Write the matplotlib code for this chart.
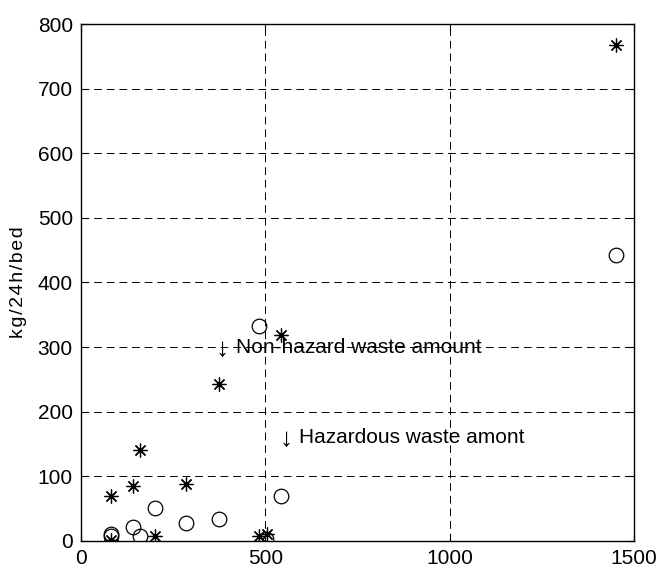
import matplotlib.pyplot as plt

# hazardous waste (circles) and non-hazard waste (stars), kg/24h/bed
circle_x = [81, 81, 140, 160, 199, 283, 373, 482, 501, 543, 1450]
circle_y = [8, 11, 22, 8, 51, 28, 34, 333, 3, 69, 443]
star_x = [81, 81, 140, 160, 199, 283, 373, 482, 503, 541, 1450]
star_y = [69, 2, 85, 141, 8, 88, 243, 8, 10, 319, 767]

x_ticks = [0, 500, 1000, 1500]
y_ticks = [0, 100, 200, 300, 400, 500, 600, 700, 800]

plt.rcParams["font.family"] = ["Liberation Sans", "DejaVu Sans"]

fig = plt.figure(figsize=(6.71, 5.73), dpi=100)
ax = fig.add_axes([0.121, 0.056, 0.824, 0.902])

ax.plot(circle_x, circle_y, linestyle="none", marker="o", markersize=10.5,
        markerfacecolor="none", markeredgecolor="black", markeredgewidth=0.9)
ax.plot(star_x, star_y, linestyle="none", marker=(8, 2, 0), markersize=10,
        markeredgecolor="black", markeredgewidth=0.9)

# annotations, arrows drawn a bit larger than the words
ax.text(383, 297, "\u2193", fontsize=19, va="center", ha="center", zorder=1)
ax.text(420, 300, "Non-hazard waste amount", fontsize=15,
        va="center", ha="left", zorder=1)
ax.text(555, 157, "\u2193", fontsize=19, va="center", ha="center", zorder=1)
ax.text(592, 160, "Hazardous waste amont", fontsize=15,
        va="center", ha="left", zorder=1)

ax.set_xlim(0, 1500)
ax.set_ylim(0, 800)
ax.set_xticks(x_ticks)
ax.set_yticks(y_ticks)
ax.tick_params(direction="in", top=True, right=True, labelsize=15, length=5, pad=6)
ax.set_axisbelow(False)
ax.grid(True, color="black", linestyle=(0, (8, 5)), linewidth=0.7)
for sp in ax.spines.values():
    sp.set_linewidth(1.0)

ax.set_ylabel("k\u200ag\u200a/\u200a2\u200a4\u200ah\u200a/\u200ab\u200ae\u200ad",
              fontsize=14, labelpad=8)

fig.savefig("out.png", dpi=100)
